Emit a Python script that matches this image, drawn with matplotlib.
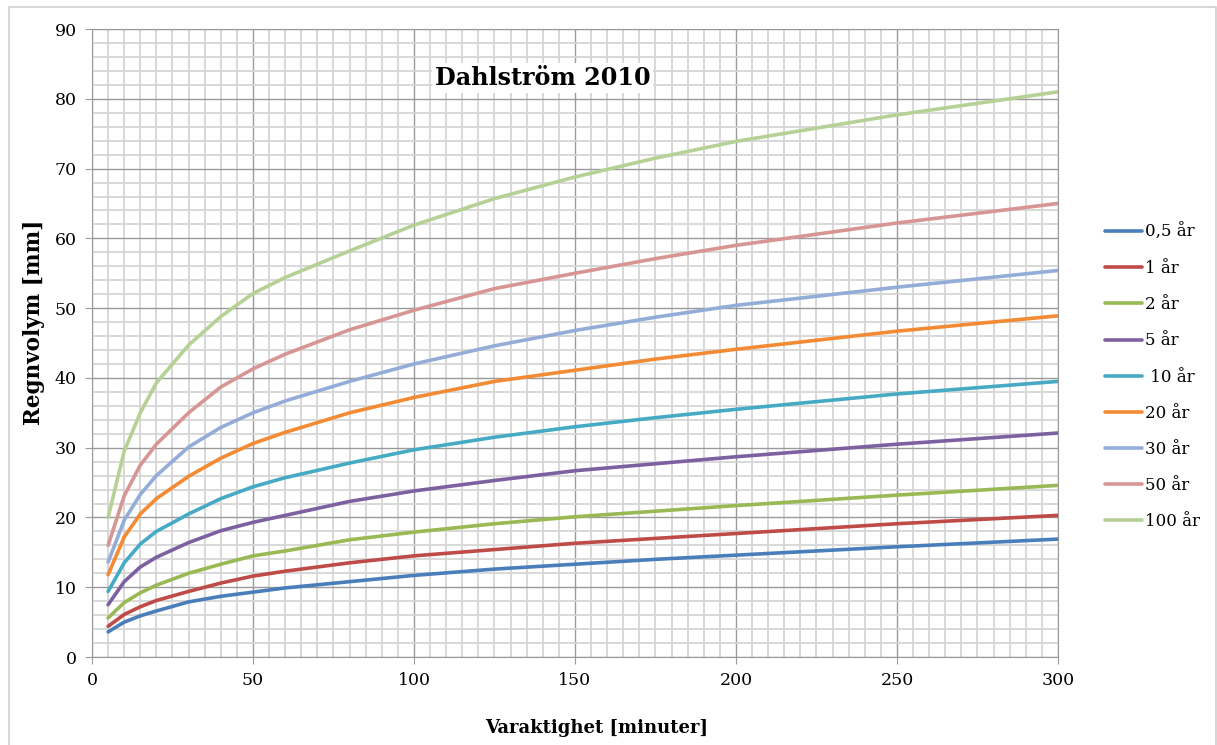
import numpy as np
import matplotlib.pyplot as plt
from matplotlib.patches import Rectangle
from matplotlib.ticker import MultipleLocator

# durations [minutes]
duration = [5, 10, 15, 20, 30, 40, 50, 60, 80, 100, 125, 150, 175, 200, 250, 300]

# rain volume [mm] per return period
v_05 = [3.6, 5.0, 5.9, 6.6, 7.9, 8.7, 9.3, 9.9, 10.8, 11.7, 12.6, 13.3, 14.0, 14.6, 15.8, 16.9]
v_1 = [4.4, 6.1, 7.2, 8.1, 9.4, 10.6, 11.6, 12.3, 13.5, 14.5, 15.4, 16.3, 17.0, 17.7, 19.1, 20.3]
v_2 = [5.6, 7.8, 9.2, 10.3, 12.0, 13.3, 14.5, 15.2, 16.8, 17.9, 19.1, 20.1, 20.9, 21.7, 23.2, 24.6]
v_5 = [7.5, 10.8, 12.9, 14.3, 16.4, 18.1, 19.3, 20.3, 22.3, 23.8, 25.3, 26.7, 27.7, 28.7, 30.5, 32.1]
v_10 = [9.4, 13.5, 16.2, 18.0, 20.5, 22.7, 24.4, 25.7, 27.8, 29.7, 31.5, 33.0, 34.3, 35.5, 37.7, 39.5]
v_20 = [11.8, 17.2, 20.5, 22.7, 25.9, 28.5, 30.6, 32.2, 35.0, 37.2, 39.5, 41.1, 42.7, 44.1, 46.7, 48.9]
v_30 = [13.6, 19.6, 23.3, 26.0, 30.1, 32.9, 35.0, 36.7, 39.5, 42.0, 44.6, 46.8, 48.7, 50.4, 53.0, 55.4]
v_50 = [16.0, 23.1, 27.5, 30.5, 35.0, 38.7, 41.3, 43.4, 46.9, 49.7, 52.8, 55.0, 57.1, 59.0, 62.2, 65.0]
v_100 = [20.0, 29.5, 35.0, 39.3, 44.7, 48.8, 52.1, 54.4, 58.2, 61.9, 65.7, 68.8, 71.5, 73.9, 77.7, 81.0]

labels = ["0,5 år", "1 år", "2 år", "5 år", " 10 år", "20 år", "30 år", "50 år", "100 år"]
series = [v_05, v_1, v_2, v_5, v_10, v_20, v_30, v_50, v_100]
colors = ["#4A7EBB", "#BE4B48", "#98B954", "#7D60A0", "#46AAC5", "#F38A34", "#93ADD8", "#D79594", "#B6D196"]

plt.rcParams['font.family'] = ['DejaVu Serif']

fig = plt.figure(figsize=(12.17, 7.45), dpi=100)
ax = fig.add_axes([0.0756, 0.1181, 0.7937, 0.8429])

for vals, lab, col in zip(series, labels, colors):
    ax.plot(duration, vals, color=col, lw=2.6, label=lab, solid_capstyle='round')

ax.set_xlim(0, 300)
ax.set_ylim(0, 90)
ax.xaxis.set_major_locator(MultipleLocator(50))
ax.xaxis.set_minor_locator(MultipleLocator(5))
ax.yaxis.set_major_locator(MultipleLocator(10))
ax.yaxis.set_minor_locator(MultipleLocator(2))
ax.grid(which='minor', color='#d6d6d6', lw=1.3)
ax.grid(which='major', color='#9a9a9a', lw=1.0)
ax.set_axisbelow(True)
for s in ax.spines.values():
    s.set_color('#9a9a9a')
ax.tick_params(which='major', direction='out', length=5, color='#9a9a9a', labelsize=12.5, pad=6)
ax.tick_params(which='minor', length=0)

ax.set_xlabel("Varaktighet [minuter]", fontsize=13, fontweight='bold')
ax.xaxis.set_label_coords(0.522, -0.099)
ax.set_ylabel("Regnvolym [mm]", fontsize=15.5, fontweight='bold')
ax.yaxis.set_label_coords(-0.049, 0.533)

ax.text(140, 83, "Dahlström 2010", fontsize=17.2, fontweight='bold', ha='center', va='center',
        bbox=dict(facecolor='white', edgecolor='none', pad=2))

ax.legend(loc='center left', bbox_to_anchor=(0.908, 0.494), bbox_transform=fig.transFigure,
          frameon=False, fontsize=12, handlelength=2.2, labelspacing=1.15,
          handletextpad=0.2, borderpad=0, borderaxespad=0)

fig.patches.append(Rectangle((0.007, -0.05), 0.992, 1.04, transform=fig.transFigure,
                             fill=False, edgecolor='#d0d0d0', lw=1.2))

fig.savefig("out.png", dpi=100)
